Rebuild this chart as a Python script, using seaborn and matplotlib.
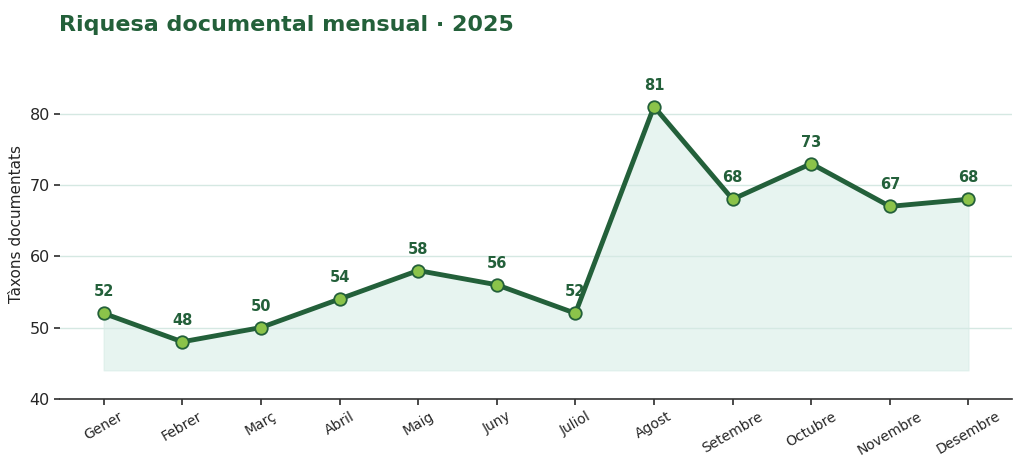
import matplotlib
matplotlib.use("Agg")
import matplotlib.pyplot as plt
import seaborn as sns
import pandas as pd

months = ["Gener","Febrer","Març","Abril","Maig","Juny","Juliol","Agost","Setembre","Octubre","Novembre","Desembre"]
values = [52,48,50,54,58,56,52,81,68,73,67,68]
fill_base = 44

sns.set_theme(style="whitegrid")
plt.rcParams['font.family'] = ['DejaVu Sans']
df = pd.DataFrame({"x": range(len(months)), "v": values})

fig, ax = plt.subplots(figsize=(10.24, 4.72), dpi=100)
fig.subplots_adjust(left=0.059, right=0.988, top=0.895, bottom=0.155)
ax.fill_between(df["x"], fill_base, df["v"], color="#d5ebe5", alpha=0.55, zorder=1)
sns.lineplot(data=df, x="x", y="v", ax=ax, color="#23603a", linewidth=3.5, zorder=2,
             marker="o", markersize=9, markerfacecolor="#8bc34a", markeredgecolor="#23603a", markeredgewidth=1.3)
for x, v in zip(df["x"], values):
    ax.annotate(str(v), (x, v), xytext=(0, 10), textcoords="offset points", ha="center", va="bottom",
                fontsize=10.5, fontweight="bold", color="#23603a")
ax.set_xlim(-0.55, 11.55)
ax.set_ylim(40, 89)
ax.set_yticks([40, 50, 60, 70, 80])
ax.set_xticks(range(len(months)))
ax.set_xticklabels(months, rotation=30, fontsize=10)
ax.tick_params(axis="y", labelsize=11.5, left=True, length=4, color="#333333")
ax.tick_params(axis="x", bottom=True, length=4, color="#333333")
ax.set_xlabel("")
ax.set_ylabel("Tàxons documentats", fontsize=11)
ax.grid(axis="x", visible=False)
ax.grid(axis="y", color="#d5e8e2", linewidth=1)
ax.set_facecolor("white")
for s in ["top", "right", "left"]:
    ax.spines[s].set_visible(False)
ax.spines["bottom"].set_color("#333333")
ax.spines["bottom"].set_linewidth(1.2)
fig.text(0.058, 0.935, "Riquesa documental mensual · 2025", fontsize=16, fontweight="bold", color="#23603a")
fig.savefig("out.png", dpi=100)
